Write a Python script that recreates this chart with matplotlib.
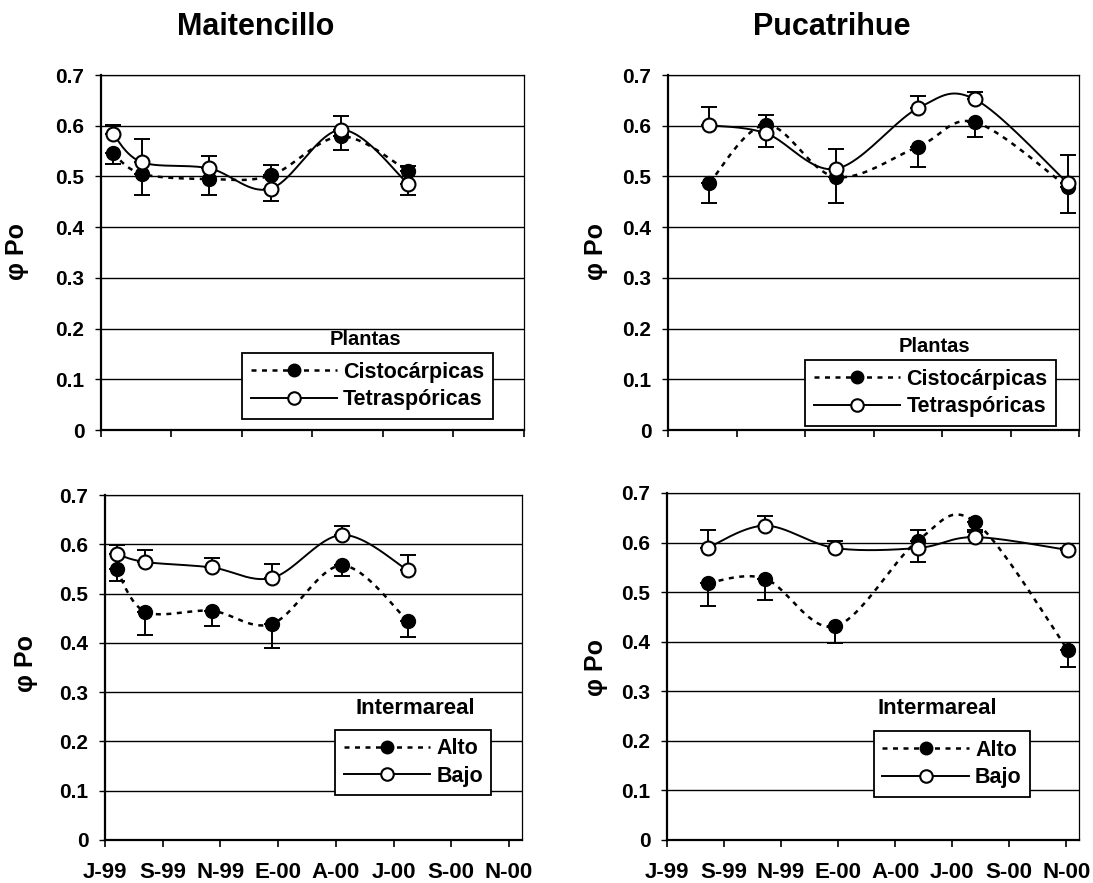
#Rendimiento cuántico máximo (φ Po) en Maitencillo y Pucatrihue, plantas e intermareal
import numpy as np
from matplotlib import pyplot as plt
from matplotlib.lines import Line2D

plt.rcParams['font.family'] = ['Liberation Sans', 'DejaVu Sans']
plt.rcParams['font.weight'] = 'bold'

#eje x en meses desde julio 1999
meses = ['J-99', 'S-99', 'N-99', 'E-00', 'A-00', 'J-00', 'S-00', 'N-00']
mes_maitencillo = [0.4, 1.4, 3.7, 5.8, 8.2, 10.5]
mes_pucatrihue = [1.45, 3.45, 5.9, 8.8, 10.8, 14.05]
y_etiquetas = ['0', '0.1', '0.2', '0.3', '0.4', '0.5', '0.6', '0.7']

#Maitencillo - plantas
mai_cisto = [0.546, 0.505, 0.495, 0.502, 0.579, 0.510]
mai_cisto_err = [0.022, 0.041, 0.031, 0.051, 0.026, 0.046]
mai_tetra = [0.584, 0.528, 0.516, 0.476, 0.592, 0.485]
mai_tetra_err = [0.018, 0.046, 0.025, 0.047, 0.028, 0.035]

#Pucatrihue - plantas
puc_cisto = [0.487, 0.602, 0.499, 0.559, 0.607, 0.479]
puc_cisto_err = [0.040, 0.043, 0.052, 0.040, 0.030, 0.052]
puc_tetra = [0.601, 0.585, 0.515, 0.635, 0.652, 0.487]
puc_tetra_err = [0.036, 0.037, 0.040, 0.024, 0.015, 0.056]

#Maitencillo - intermareal
mai_alto = [0.549, 0.463, 0.465, 0.439, 0.557, 0.444]
mai_alto_err = [0.024, 0.048, 0.030, 0.050, 0.022, 0.032]
mai_bajo = [0.580, 0.564, 0.553, 0.532, 0.619, 0.547]
mai_bajo_err = [0.019, 0.025, 0.019, 0.029, 0.018, 0.032]

#Pucatrihue - intermareal
puc_alto = [0.519, 0.527, 0.431, 0.604, 0.642, 0.384]
puc_alto_err = [0.047, 0.042, 0.034, 0.043, 0.020, 0.035]
puc_bajo = [0.590, 0.634, 0.589, 0.589, 0.611, 0.585]
puc_bajo_err = [0.035, 0.020, 0.015, 0.036, 0.015, 0.004]

XMAX = 14.45
PUNTEADA = (0, (2, 2.2))


def suavizar(x, y, n=40):
    # curva suavizada tipo Excel (Bezier con tangentes de Catmull-Rom)
    x = np.asarray(x, float)
    y = np.asarray(y, float)
    px = np.r_[x[0], x, x[-1]]
    py = np.r_[y[0], y, y[-1]]
    t = np.linspace(0, 1, n)
    xs, ys = [], []
    for i in range(len(x) - 1):
        p1 = np.array([x[i], y[i]])
        p2 = np.array([x[i + 1], y[i + 1]])
        p0 = np.array([px[i], py[i]])
        p3 = np.array([px[i + 3], py[i + 3]])
        c1 = p1 + (p2 - p0) / 6
        c2 = p2 - (p3 - p1) / 6
        b = ((1 - t) ** 3)[:, None] * p1 + (3 * (1 - t) ** 2 * t)[:, None] * c1 \
            + (3 * (1 - t) * t ** 2)[:, None] * c2 + (t ** 3)[:, None] * p2
        xs.append(b[:, 0])
        ys.append(b[:, 1])
    return np.concatenate(xs), np.concatenate(ys)


def panel(rect, x, lleno, lleno_err, vacio, vacio_err, nombres, titulo, tam_titulo,
          ley_xy, tit_xy, etiquetas_x):
    ax = fig.add_axes(rect)
    cero = np.zeros(len(x))
    # barras de error: serie llena hacia abajo, serie vacía hacia arriba
    ax.errorbar(x, lleno, yerr=[lleno_err, cero], fmt='none', ecolor='black',
                elinewidth=1.4, capsize=5.5, capthick=1.4, zorder=2)
    ax.errorbar(x, vacio, yerr=[cero, vacio_err], fmt='none', ecolor='black',
                elinewidth=1.4, capsize=5.5, capthick=1.4, zorder=2)
    sx, sy = suavizar(x, lleno)
    ax.plot(sx, sy, color='black', lw=1.8, linestyle=PUNTEADA, zorder=3)
    sx, sy = suavizar(x, vacio)
    ax.plot(sx, sy, color='black', lw=1.4, zorder=3)
    ax.plot(x, lleno, 'o', ms=10, mfc='black', mec='black', zorder=4)
    ax.plot(x, vacio, 'o', ms=10, mfc='white', mec='black', mew=1.5, zorder=5)

    ax.set_xlim(0, XMAX)
    ax.set_ylim(0, 0.7)
    ax.set_yticks(np.arange(0, 0.71, 0.1))
    ax.set_yticklabels(y_etiquetas, fontsize=15, fontweight='bold')
    if etiquetas_x:
        ax.set_xticks(np.arange(0, 15, 2))
        ax.set_xticklabels(meses, fontsize=16, fontweight='bold')
    else:
        ax.set_xticks(np.linspace(0, XMAX, 7))
        ax.set_xticklabels([])
    ax.tick_params(axis='y', direction='out', length=4, width=1, pad=8)
    ax.tick_params(axis='x', direction='out', length=5, width=1.2, pad=11)
    ax.yaxis.grid(True, color='black', lw=1.0)
    ax.set_axisbelow(True)
    for lado in ['left', 'bottom']:
        ax.spines[lado].set_linewidth(1.6)
    for lado in ['top', 'right']:
        ax.spines[lado].set_linewidth(0.9)

    # leyenda con el título fuera del recuadro
    h1 = Line2D([], [], color='black', lw=1.8, linestyle=PUNTEADA, marker='o',
                ms=9, mfc='black', mec='black')
    h2 = Line2D([], [], color='black', lw=1.4, marker='o', ms=9,
                mfc='white', mec='black', mew=1.5)
    ley = ax.legend([h1, h2], nombres, loc='center', bbox_to_anchor=ley_xy,
                    prop={'size': 15.5, 'weight': 'bold'}, frameon=True, fancybox=False,
                    framealpha=1, edgecolor='black', borderpad=0.4, labelspacing=0.3,
                    handlelength=4.0, handletextpad=0.3, borderaxespad=0)
    ley.get_frame().set_linewidth(1.3)
    ax.text(tit_xy[0], tit_xy[1], titulo, transform=ax.transAxes, ha='center',
            va='center', fontsize=tam_titulo, fontweight='bold')
    return ax


fig = plt.figure(figsize=(10.93, 8.83), dpi=100)

panel([0.0924, 0.513, 0.387, 0.402], mes_maitencillo, mai_cisto, mai_cisto_err,
      mai_tetra, mai_tetra_err, ['Cistocárpicas', 'Tetraspóricas'], 'Plantas', 14.5,
      (0.630, 0.124), (0.626, 0.256), False)
panel([0.6112, 0.513, 0.376, 0.402], mes_pucatrihue, puc_cisto, puc_cisto_err,
      puc_tetra, puc_tetra_err, ['Cistocárpicas', 'Tetraspóricas'], 'Plantas', 14.5,
      (0.639, 0.104), (0.647, 0.236), False)
panel([0.0961, 0.0487, 0.3815, 0.3907], mes_maitencillo, mai_alto, mai_alto_err,
      mai_bajo, mai_bajo_err, ['Alto', 'Bajo'], 'Intermareal', 16,
      (0.739, 0.225), (0.743, 0.380), True)
panel([0.6102, 0.0487, 0.377, 0.393], mes_pucatrihue, puc_alto, puc_alto_err,
      puc_bajo, puc_bajo_err, ['Alto', 'Bajo'], 'Intermareal', 16,
      (0.692, 0.219), (0.655, 0.378), True)

# títulos de columna
fig.text(0.234, 0.969, 'Maitencillo', ha='center', va='center', fontsize=22, fontweight='bold')
fig.text(0.761, 0.969, 'Pucatrihue', ha='center', va='center', fontsize=22, fontweight='bold')

# etiquetas del eje y
for px, py in [(17, 252), (26, 663), (596, 252), (596, 667)]:
    fig.text(px / 1093, 1 - py / 883, 'φ Po', rotation=90, ha='center', va='center',
             fontsize=18, fontweight='bold')

plt.savefig('out.png', dpi=100)
